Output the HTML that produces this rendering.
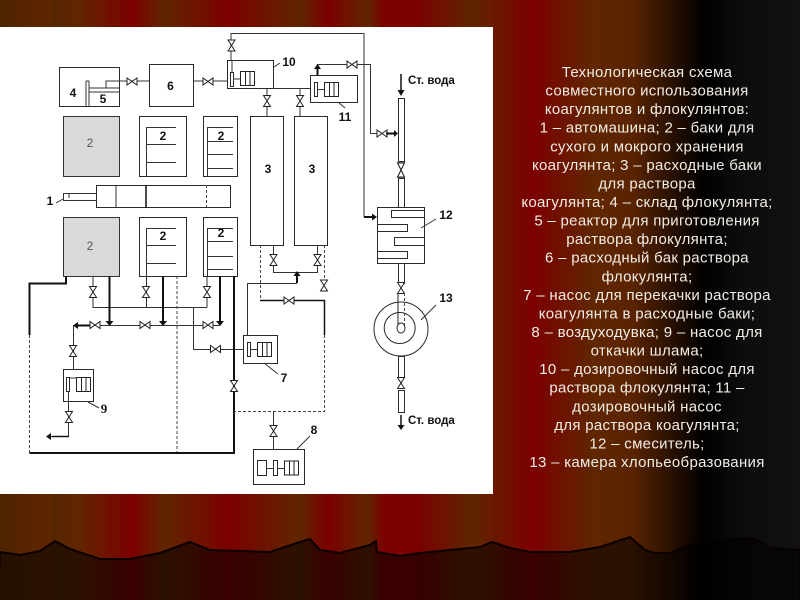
<!DOCTYPE html>
<html><head><meta charset="utf-8"><style>
html,body{margin:0;padding:0;width:800px;height:600px;overflow:hidden;background:#000}
svg{display:block}
.l{stroke:#333;stroke-width:1;fill:none}
.d{stroke:#444;stroke-width:1;fill:none;stroke-dasharray:3 2}
.b{stroke:#2a2a2a;stroke-width:1;fill:#fff}
.lb{font:bold 12px "Liberation Sans",sans-serif;fill:#111;text-anchor:middle}
.sv{font:bold 11.500px "Liberation Sans","Noto Sans CJK SC",sans-serif;fill:#111}
.tx{font:15px "Liberation Sans","Noto Sans CJK SC",sans-serif;letter-spacing:.3px;fill:#f2ece6;text-anchor:middle}
</style></head><body>
<svg width="800" height="600" viewBox="0 0 800 600" xmlns="http://www.w3.org/2000/svg">
<defs>
<linearGradient id="cur" x1="0" x2="800" y1="0" y2="0" gradientUnits="userSpaceOnUse">
<stop offset="0" stop-color="#4e2300"/><stop offset=".06" stop-color="#602600"/><stop offset=".07" stop-color="#552600"/><stop offset=".1" stop-color="#622600"/>
<stop offset=".165" stop-color="#7c0000"/><stop offset=".205" stop-color="#602600"/><stop offset=".285" stop-color="#7c0000"/><stop offset=".375" stop-color="#602600"/><stop offset=".41" stop-color="#7c0000"/>
<stop offset=".46" stop-color="#602600"/><stop offset=".48" stop-color="#7c0000"/><stop offset=".52" stop-color="#7a0000"/><stop offset=".59" stop-color="#602600"/>
<stop offset=".665" stop-color="#7c0000"/><stop offset=".74" stop-color="#602600"/><stop offset=".79" stop-color="#5a2400"/><stop offset=".88" stop-color="#000"/><stop offset=".925" stop-color="#0c0c0c"/><stop offset="1" stop-color="#121212"/>
</linearGradient>
<g id="vh"><path d="M-5,-3.500 L5,3.500 L5,-3.500 L-5,3.500 Z" fill="#fff" stroke="#222"/></g>
<g id="vv"><path d="M-3.500,-5.500 L3.500,5.500 L-3.500,5.500 L3.500,-5.500 Z" fill="#fff" stroke="#222"/></g>
<g id="mot"><rect x="0" y="0" width="14" height="14" fill="#fff" stroke="#222"/><path d="M5,0V14M9.500,0V14" stroke="#222" fill="none"/></g>
</defs>
<rect width="800" height="600" fill="url(#cur)"/>
<path d="M0,552 L20,555 L40,551 L55,541 L70,549 L100,559 L130,559 L160,553 L190,542 L210,550 L270,552 L300,542 L310,539 L320,550 L340,553 L370,545 L376,541 L377,552 L400,556 L420,553 L460,549 L480,547 L492,542 L510,548 L530,552 L570,552 L600,547 L630,537 L645,550 L655,553 L670,553 L700,541 L720,539 L750,538 L760,541 L770,548 L800,550 L800,602 L-2,602 Z" fill="#000" fill-opacity=".54" stroke="#0a0000" stroke-width="2"/>
<rect x="0" y="27" width="493" height="467" fill="#fff"/>

<!-- 4,5,6 -->
<rect class="b" x="59.500" y="67.500" width="60" height="39"/>
<path class="l" d="M86,81V106M89,81V106M86,81H89M89,88H119M89,92H119M106,88V81H149"/>
<rect class="b" x="149.500" y="64.500" width="44" height="42"/>
<text class="lb" x="73" y="97">4</text><text class="lb" x="103" y="103">5</text><text class="lb" x="170.500" y="90">6</text>
<path class="l" d="M193,81H229"/>
<use href="#vh" x="132" y="81.500"/><use href="#vh" x="208" y="81.500"/>

<!-- 10 -->
<path class="l" d="M231,60V33.500H364V217"/>
<path d="M364,217H373" stroke="#111" stroke-width="2"/><path d="M372,213.500L377,217L372,220.500Z" fill="#111"/>
<rect class="b" x="227.500" y="60.500" width="46" height="28"/>
<path class="l" d="M232,60V72M233,79H240"/>
<rect class="b" x="230.500" y="72.500" width="3" height="14"/>
<use href="#mot" x="240.500" y="71.500"/>
<use href="#vv" x="231.500" y="45.500"/>
<path class="l" d="M273,88.500H311M267,88V116M300,88V116M274,67L280,63"/>
<use href="#vv" x="267" y="101"/><use href="#vv" x="300" y="101"/>
<text class="lb" x="289" y="66">10</text>
<!-- 11 -->
<rect class="b" x="310.500" y="75.500" width="47" height="27"/>
<rect class="b" x="314.500" y="82.500" width="3" height="14"/>
<path class="l" d="M317,89.500H324"/><use href="#mot" x="324.500" y="82.500"/>
<path class="l" d="M317,64.500H370.500V133.500H378"/>
<path d="M317.500,75V68" stroke="#111" stroke-width="2"/><path d="M314,69L317.500,64L321,69Z" fill="#111"/>
<use href="#vh" x="352" y="64.500"/><use href="#vh" x="382" y="133.500"/>
<path d="M386,133.500H395" stroke="#111" stroke-width="2"/><path d="M394,130L398,133.500L394,137Z" fill="#111"/>
<path class="l" d="M338,102L345,108"/><text class="lb" x="345" y="121">11</text>

<!-- 3 -->
<rect class="b" x="250.500" y="116.500" width="33" height="129"/><rect class="b" x="294.500" y="116.500" width="33" height="129"/>
<text class="lb" x="268" y="173">3</text><text class="lb" x="312" y="173">3</text>
<path class="l" d="M273.500,245V272.500H317.500V245"/>
<use href="#vv" x="273.500" y="260"/><use href="#vv" x="317.500" y="260"/>
<path class="d" d="M260.500,245V300M324.500,245V280M324.500,335V411.500H235"/>
<use href="#vv" x="324" y="285.500"/>
<path d="M260,300.500H324.500V335" stroke="#111" stroke-width="1.500" fill="none"/>
<use href="#vh" x="289" y="300.500"/>
<path d="M297,283V275" stroke="#111" stroke-width="2"/><path d="M293.500,276L297,271L300.500,276Z" fill="#111"/>
<path class="l" d="M297,283.500H247.500V340"/>

<!-- 2 top -->
<rect x="63.500" y="116.500" width="56" height="60" fill="#d9d9d9" stroke="#333"/>
<rect class="b" x="139.500" y="116.500" width="47" height="60"/>
<rect class="b" x="203.500" y="116.500" width="34" height="60"/>
<path class="l" d="M146.500,176V127.500H176M146,144.500H176M146,162.500H176M207.500,176V127.500H233M207,141.500H233M207,154.500H233M207,168.500H233"/>
<text x="90" y="147" text-anchor="middle" font-family="Liberation Sans" font-size="12" fill="#555">2</text>
<text class="lb" x="163" y="140">2</text><text class="lb" x="221" y="140">2</text>

<!-- 1 truck -->
<rect class="b" x="96.500" y="185.500" width="134" height="22"/>
<path class="l" d="M116,185V207M63.500,193V200.500M63,193.500H96M63,200.500H96M69,193V198"/>
<path stroke="#111" stroke-width="1.500" d="M146,185V208"/><path class="d" d="M206.500,185V207"/>
<text class="lb" x="50" y="205">1</text><path class="l" d="M56,203L63,199"/>

<!-- 2 bottom -->
<rect x="63.500" y="217.500" width="56" height="59" fill="#d9d9d9" stroke="#333"/>
<rect class="b" x="139.500" y="217.500" width="47" height="59"/>
<rect class="b" x="203.500" y="217.500" width="34" height="59"/>
<path class="l" d="M146.500,276V228.500H176M146,245.500H176M146,263.500H176M207.500,276V228.500H233M207,241.500H233M207,256.500H233M207,269.500H233"/>
<text x="90" y="250" text-anchor="middle" font-family="Liberation Sans" font-size="12" fill="#555">2</text>
<text class="lb" x="163" y="240">2</text><text class="lb" x="221" y="237">2</text>

<!-- lower piping -->
<path class="l" d="M93,276V307.500H207M146.500,276V307.500M207,276V307.500M193.500,307V349.500H247"/>
<use href="#vv" x="93" y="292"/><use href="#vv" x="146" y="292"/><use href="#vv" x="207" y="292"/>
<use href="#vh" x="215.500" y="349"/>
<path class="d" d="M177,276V453"/>
<path class="l" d="M220,325.500H73.500V370"/>
<path d="M109.500,276V322M163,276V322M220,276V322" stroke="#111" stroke-width="2" fill="none"/>
<path d="M105.500,321H113.500L109.500,326ZM159,321H167L163,326ZM216,321H224L220,326Z" fill="#111"/>
<use href="#vh" x="95" y="325"/><use href="#vh" x="145" y="325"/><use href="#vh" x="208" y="325"/>
<path d="M90,325.500H76" stroke="#111" stroke-width="2"/><path d="M78,322L73,325.500L78,329Z" fill="#111"/>
<use href="#vv" x="73" y="351"/>
<path d="M66,276V283.500H29.500V335" stroke="#111" stroke-width="2" fill="none"/>
<path class="d" d="M29.500,335V453"/>
<path d="M29.500,453H234V276" stroke="#111" stroke-width="2" fill="none"/>
<use href="#vv" x="234" y="386"/>

<!-- 9 -->
<rect class="b" x="63.500" y="369.500" width="30" height="32"/>
<rect class="b" x="66.500" y="377.500" width="3" height="14"/>
<path class="l" d="M69,378H76M68.500,391V436.500H50M88,402L99,408"/>
<use href="#mot" x="76.500" y="377.500"/>
<use href="#vv" x="69" y="417"/>
<path d="M52,436.500H69" stroke="#111" stroke-width="1.500"/><path d="M51,433L46,436.500L51,440Z" fill="#111"/>
<text x="104" y="413" text-anchor="middle" font-family="Liberation Serif" font-weight="bold" font-size="13" fill="#111">9</text>

<!-- 7 -->
<rect class="b" x="243.500" y="335.500" width="34" height="28"/>
<rect class="b" x="247.500" y="342.500" width="3" height="14"/>
<path class="l" d="M250,349.500H257M264,363L278,374"/>
<use href="#mot" x="257.500" y="342.500"/>
<text class="lb" x="284" y="382">7</text>

<!-- 8 -->
<path class="l" d="M273.500,411V450"/>
<use href="#vv" x="273.500" y="431"/>
<rect class="b" x="253.500" y="449.500" width="51" height="35"/>
<rect class="b" x="257.500" y="460.500" width="9" height="15"/>
<rect class="b" x="273.500" y="460.500" width="4" height="15"/>
<path class="l" d="M266,468.500H273M277,468.500H284M297,449L310,436"/>
<use href="#mot" x="284.500" y="461"/>
<text class="lb" x="314" y="434">8</text>

<!-- mixer -->
<path stroke="#111" stroke-width="1.500" d="M401,74V92"/><path d="M397.500,90H404.500L401,96Z" fill="#111"/>
<text class="sv" x="408" y="84">Ст. вода</text>
<rect class="b" x="398.500" y="98.500" width="6" height="63"/>
<rect class="b" x="398.500" y="178.500" width="6" height="29"/>
<use href="#vv" x="401" y="170" transform="translate(0,-51) scale(1,1.300)"/>
<rect class="b" x="377.500" y="207.500" width="47" height="56"/>
<rect class="b" x="391.500" y="210.500" width="33" height="7"/>
<rect class="b" x="377.500" y="224.500" width="30" height="7"/>
<rect class="b" x="394.500" y="237.500" width="30" height="8"/>
<rect class="b" x="377.500" y="251.500" width="30" height="7"/>
<path class="l" d="M421,228L436,219"/><text class="lb" x="446" y="219">12</text>
<rect class="b" x="398.500" y="263.500" width="6" height="20"/>
<use href="#vv" x="401" y="288"/>

<!-- 13 -->
<circle class="b" cx="401" cy="329" r="27"/>
<circle class="b" cx="399.700" cy="328" r="15.500"/>
<path stroke="#222" fill="none" d="M398,293V328"/><path class="d" d="M404.500,293V328"/>
<ellipse class="b" cx="401" cy="328" rx="4" ry="5"/>
<path class="l" d="M421,320L436,305"/><text class="lb" x="446" y="302">13</text>
<rect class="b" x="398.500" y="356.500" width="6" height="21"/>
<use href="#vv" x="401" y="383"/>
<rect class="b" x="398.500" y="390.500" width="6" height="22"/>
<path stroke="#111" stroke-width="1.500" d="M401,415V426"/><path d="M397.500,425H404.500L401,430Z" fill="#111"/>
<text class="sv" x="408" y="424">Ст. вода</text>

<!-- text -->
<g>
<text class="tx" x="647" y="77">Технологическая схема</text>
<text class="tx" x="647" y="95.600">совместного использования</text>
<text class="tx" x="647" y="114.100">коагулянтов и флокулянтов:</text>
<text class="tx" x="647" y="132.700">1 – автомашина; 2 – баки для</text>
<text class="tx" x="647" y="151.300">сухого и мокрого хранения</text>
<text class="tx" x="647" y="169.900">коагулянта; 3 – расходные баки</text>
<text class="tx" x="647" y="188.400">для раствора</text>
<text class="tx" x="647" y="207">коагулянта; 4 – склад флокулянта;</text>
<text class="tx" x="647" y="225.600">5 – реактор для приготовления</text>
<text class="tx" x="647" y="244.100">раствора флокулянта;</text>
<text class="tx" x="647" y="262.700">6 – расходный бак раствора</text>
<text class="tx" x="647" y="281.300">флокулянта;</text>
<text class="tx" x="647" y="299.900">7 – насос для перекачки раствора</text>
<text class="tx" x="647" y="318.400">коагулянта в расходные баки;</text>
<text class="tx" x="647" y="337">8 – воздуходувка; 9 – насос для</text>
<text class="tx" x="647" y="355.600">откачки шлама;</text>
<text class="tx" x="647" y="374.100">10 – дозировочный насос для</text>
<text class="tx" x="647" y="392.700">раствора флокулянта; 11 –</text>
<text class="tx" x="647" y="411.300">дозировочный насос</text>
<text class="tx" x="647" y="429.900">для раствора коагулянта;</text>
<text class="tx" x="647" y="448.400">12 – смеситель;</text>
<text class="tx" x="647" y="467">13 – камера хлопьеобразования</text>
</g>
</svg>
</body></html>
